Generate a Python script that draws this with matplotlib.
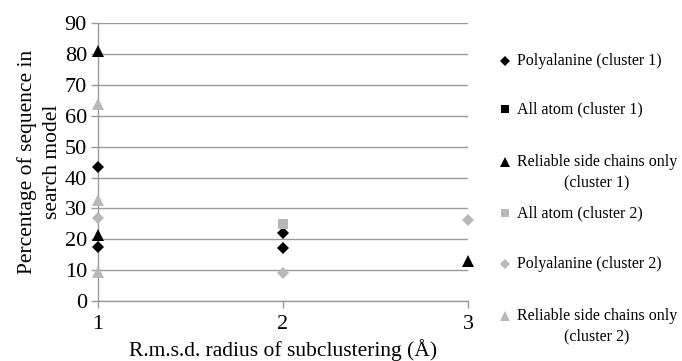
import matplotlib
matplotlib.use("Agg")
import matplotlib.pyplot as plt
from matplotlib.lines import Line2D

plt.rcParams['font.family'] = ['Liberation Serif', 'DejaVu Serif']

# ------------------------------------------------------
# data
# ------------------------------------------------------
poly_c1_x = [1, 1, 2, 2]
poly_c1_y = [43.5, 17.6, 21.9, 17.1]

allatom_c1_x = []
allatom_c1_y = []

side_c1_x = [1, 1, 3]
side_c1_y = [81.0, 21.4, 13.0]

allatom_c2_x = [2]
allatom_c2_y = [24.9]

poly_c2_x = [1, 2, 3]
poly_c2_y = [26.8, 9.2, 26.1]

side_c2_x = [1, 1, 1]
side_c2_y = [63.7, 32.7, 9.5]

x_ticks = [1, 2, 3]
y_ticks = list(range(0, 91, 10))

BLACK = "black"
GREY = "#b8b8b8"

series = [
    ("Polyalanine (cluster 1)", poly_c1_x, poly_c1_y, "D", BLACK, 6),
    ("All atom (cluster 1)", allatom_c1_x, allatom_c1_y, "s", BLACK, 7),
    ("Reliable side chains only\n(cluster 1)", side_c1_x, side_c1_y, "^", BLACK, 8),
    ("All atom (cluster 2)", allatom_c2_x, allatom_c2_y, "s", GREY, 7),
    ("Polyalanine (cluster 2)", poly_c2_x, poly_c2_y, "D", GREY, 6),
    ("Reliable side chains only\n(cluster 2)", side_c2_x, side_c2_y, "^", GREY, 8),
]

W, H = 682, 361
fig = plt.figure(figsize=(W / 100, H / 100), dpi=100)
ax = fig.add_axes([98 / W, 1 - 301 / H, (468 - 98) / W, (301 - 23.3) / H])

for label, xs, ys, m, c, s in series:
    ax.plot(xs, ys, linestyle="none", marker=m, color=c, markersize=s,
            markeredgewidth=0, clip_on=False, zorder=3)

ax.set_xlim(1, 3)
ax.set_ylim(0, 90)
ax.set_xticks(x_ticks)
ax.set_yticks(y_ticks)
ax.yaxis.grid(True, color="#9a9a9a", linewidth=1.0)
ax.set_axisbelow(True)
for sp in ["top", "right"]:
    ax.spines[sp].set_visible(False)
for sp in ["left", "bottom"]:
    ax.spines[sp].set_color("#9a9a9a")
    ax.spines[sp].set_linewidth(1.0)
ax.tick_params(axis="both", colors="#9a9a9a", labelcolor="black",
               labelsize=16, length=5, width=1.0)
ax.tick_params(axis="x", pad=5)
ax.tick_params(axis="y", pad=3)

ax.set_xlabel("R.m.s.d. radius of subclustering (Å)", fontsize=15.5, labelpad=4)
ylab = ax.set_ylabel("Percentage of sequence in\nsearch model", fontsize=15.5,
                     labelpad=2)
ylab.set_linespacing(1.45)

# legend drawn by hand so markers sit on the first text line
legend_y = [61, 109, 162, 213, 264, 316]
for (label, xs, ys, m, c, s), yp in zip(series, legend_y):
    fy = 1 - yp / H
    fig.add_artist(Line2D([505 / W], [fy], marker=m, color=c, markersize=s - 1,
                          markeredgewidth=0, linestyle="none"))
    fig.text(517 / W, fy + 7.5 / H, label, fontsize=11.5, va="top",
             ha="left", multialignment="center", linespacing=1.35)

fig.savefig("out.png", dpi=100)
